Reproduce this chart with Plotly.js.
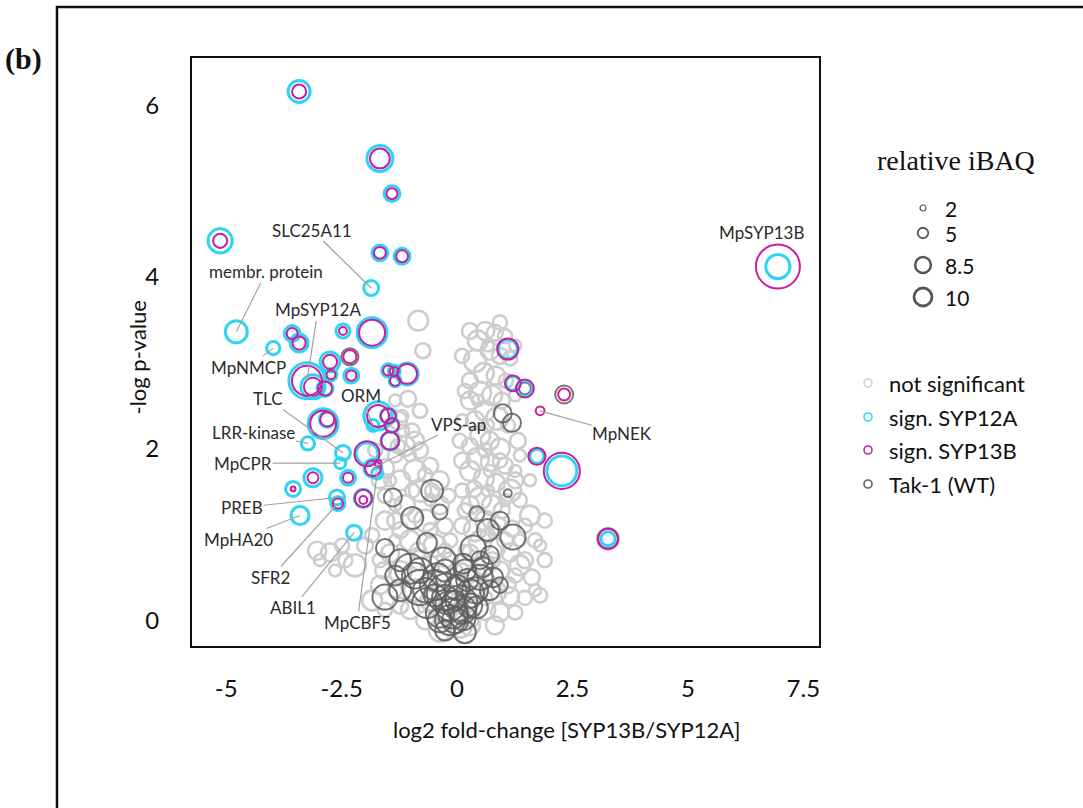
<!DOCTYPE html>
<html>
<head>
<meta charset="utf-8">
<script src="https://cdn.plot.ly/plotly-3.0.1.min.js"></script>
<style>
  html, body { margin: 0; padding: 0; background: #ffffff; }
  #chart { width: 1083px; height: 808px; }
</style>
</head>
<body>
<div id="chart"></div>
<script>
// ---- Volcano plot data: log2 fold-change [SYP13B/SYP12A] vs -log p-value ----

// Proteins that are not significant
const nsX = [-0.84,-0.74,0.61,0.82,1.04,0.45,0.71,0.93,0.39,1.15,0.58,0.84,0.28,1.06,0.50,0.76,0.97,0.28,0.61,0.39,0.87,1.10,0.50,0.71,0.28,0.93,0.45,0.71,1.04,0.28,0.58,0.84,0.37,1.15,1.36,0.50,0.76,0.28,0.97,0.61,0.87,0.39,1.19,1.58,0.50,0.82,0.28,1.15,1.80,1.47,0.61,0.93,0.39,1.26,1.62,0.45,0.82,1.15,0.28,1.47,0.61,0.93,0.32,0.06,
  -1.06,-1.28,-0.97,-1.13,-0.80,-1.34,-1.56,-0.91,-0.58,-1.23,-0.37,-0.80,-1.56,-1.13,-0.37,-1.34,-0.69,-0.26,-1.84,-1.02,-0.48,-1.45,-0.80,-0.15,-1.23,-0.37,-1.67,-0.91,-0.04,-0.58,-0.26,-1.23,0.06,0.28,
  -2.75,-2.97,-2.21,-2.49,-1.60,-1.84,
  -1.34,-0.80,-1.17,-1.45,-0.58,-0.91,-0.15,-1.34,-0.58,0.17,1.36,1.26,0.67,0.45,0.93,0.17,0.17,0.82,1.90,1.69,-1.02,-1.77,
  0.28,0.93,0.67,0.11,1.26,0.17,1.26,0.11,1.32,0.06,0.61,0.11,1.36,0.71,1.26,0.11,1.58,0.67,1.04,0.11,1.47,0.67,1.04,1.69,0.11,0.76,1.36,1.90,1.10,1.80,0.11,0.61,1.26,0.82,
  -1.19,-0.91,-1.28,-0.69,-1.67,-0.97,-1.34,-0.54,-0.19,-1.56,-0.58,-1.23,-1.99,-0.84,-0.26,-1.67,-0.58,-0.04,-1.34,-0.26,-1.02,-1.56,-0.69,-0.37,-2.42,-2.64,-3.03];
const nsY = [3.49,3.14,3.37,3.35,3.31,3.26,3.14,3.08,3.02,3.05,2.88,2.85,2.79,2.79,2.65,2.62,2.56,2.56,2.44,2.33,2.35,2.27,2.15,2.09,2.03,2.00,1.88,1.84,1.80,1.74,1.65,1.60,1.53,1.51,1.40,1.42,1.34,1.34,1.28,1.16,1.10,1.05,1.07,1.22,0.91,0.84,0.79,0.79,0.87,0.70,0.64,0.58,0.52,0.52,0.50,0.35,0.33,0.28,0.23,0.26,0.12,0.09,0.02,0.09,
  2.58,2.33,2.21,2.03,1.98,1.92,1.77,1.74,1.80,1.63,1.63,1.51,1.45,1.34,1.34,1.16,1.16,1.10,0.99,0.93,0.87,0.78,0.70,0.70,0.56,0.52,0.41,0.35,0.41,0.23,0.09,0.17,-0.06,-0.06,
  0.79,0.70,0.64,0.87,0.58,0.23,
  2.56,2.44,2.21,1.63,1.40,1.22,0.93,0.93,0.47,0.35,0.93,1.74,2.27,2.56,1.86,1.28,0.81,1.05,1.16,0.35,1.92,1.98,
  3.37,3.47,3.20,3.08,3.20,2.67,2.62,2.33,2.09,2.09,1.98,1.86,1.92,1.74,1.63,1.51,1.63,1.51,1.40,1.10,1.10,0.99,0.93,0.93,0.58,0.70,0.64,0.70,0.41,0.29,0.23,0.26,0.09,-0.06,
  2.38,2.09,2.03,1.69,1.63,1.51,1.34,1.51,1.45,1.16,1.05,1.05,0.87,0.81,0.81,0.70,0.64,0.58,0.35,0.35,0.12,0.12,0.00,-0.12,0.70,0.58,0.81];
const nsIBAQ = [4.5,3.4,4.1,3.6,3.2,4.5,4.1,3.6,5.0,3.2,4.5,4.1,3.6,3.2,5.0,4.5,3.6,4.1,4.5,4.1,5.0,3.2,4.5,4.1,3.6,4.5,5.0,4.1,3.6,4.5,4.5,4.1,3.6,5.0,3.2,5.0,4.5,4.1,3.6,4.5,4.1,5.0,3.6,4.5,5.0,4.5,3.6,4.1,2.7,3.6,4.5,4.1,5.0,3.2,3.6,4.5,5.0,4.1,3.6,3.2,4.5,4.1,3.6,4.5,
  3.6,4.1,3.2,4.5,3.6,3.2,4.1,5.0,3.6,4.5,4.1,5.0,3.2,4.5,4.1,3.6,5.0,3.6,3.2,4.5,5.0,4.1,4.5,3.6,5.0,4.5,4.1,5.0,4.1,4.5,5.0,3.6,5.5,4.5,
  4.1,2.7,5.0,3.2,3.6,4.5,
  2.7,3.2,2.7,2.7,2.7,3.2,3.2,2.7,3.2,2.7,2.7,2.7,2.7,2.7,3.2,3.2,2.7,2.7,3.2,2.7,2.7,3.2,
  3.6,3.2,2.7,3.2,2.7,3.2,2.7,2.7,3.6,3.2,3.2,3.6,2.7,2.7,3.6,3.2,2.7,2.7,2.7,3.6,3.2,3.2,3.6,3.2,3.2,3.6,4.5,3.2,3.6,3.2,3.2,3.2,3.2,4.1,
  2.7,4.1,3.2,3.2,3.6,3.2,2.7,3.2,3.2,4.1,3.2,3.6,3.6,3.6,3.2,3.2,4.1,3.2,3.2,4.1,4.1,3.2,4.1,5.0,3.2,2.7,4.1];

// Tak-1 (WT)
const wtX = [-1.39,-0.54,-0.37,-0.97,1.10,0.43,0.67,0.93,1.21,-1.56,-1.56,-0.65,-1.02,-0.30,0.35,0.13,0.56,0.78,0.50,-0.80,-0.43,-0.22,0.06,-0.09,0.13,0.28,-0.65,-0.37,0.43,0.00,-0.80,0.99,1.19,-2.32,1.47,2.32,3.27,-0.15,-0.04,0.22,-0.48,-1.23,0.71,0.93,-0.26,0.17,
  -0.15,0.11,-0.26,0.28,-0.04,-0.37,-0.48,0.39,-0.69,0.17,-0.91,-1.23,0.71,0.50,-0.26,-1.34];
const wtY = [1.43,1.51,1.26,1.19,1.48,1.24,1.05,1.16,0.97,0.84,0.27,0.90,0.60,0.70,0.84,0.66,0.62,0.50,0.50,0.38,0.50,0.31,0.20,0.08,0.03,0.31,0.20,0.08,0.15,0.38,0.58,2.41,2.30,3.07,2.70,2.63,0.95,0.00,0.23,0.47,0.29,0.70,0.76,0.41,-0.12,-0.14,
  0.17,0.12,0.26,0.17,0.00,0.00,0.41,0.35,0.35,0.58,0.52,0.35,0.35,0.70,0.58,0.52];
const wtIBAQ = [4.1,5.0,3.4,5.0,1.8,3.4,5.0,4.1,5.7,4.1,5.7,4.5,6.8,5.7,5.7,4.5,4.5,4.5,5.7,8.0,6.4,9.1,8.0,6.8,5.7,6.4,6.8,6.4,5.0,5.7,5.7,4.1,4.1,3.9,2.7,4.1,4.8,6.8,4.5,5.0,5.0,5.0,4.1,3.6,4.5,5.0,
  6.8,6.4,5.9,5.5,5.9,5.5,6.8,5.9,5.5,5.0,5.9,5.0,4.5,4.1,5.0,4.5];

// Significant proteins; relative iBAQ in the SYP12A and SYP13B pull-downs
const sigX = [-3.42,-1.67,-1.41,-5.13,-1.67,-1.19,-1.86,6.95,-4.78,-3.98,-3.57,-3.42,-2.47,-1.84,-2.32,-2.75,-3.25,-3.12,-2.86,-2.73,-2.29,-1.49,-1.36,-1.34,-1.08,-2.90,-2.81,-3.23,-1.71,-1.49,-1.41,-1.82,-1.45,-2.47,-2.53,-1.95,-1.82,-1.71,-1.73,-3.12,-3.55,-2.36,-2.60,-2.58,-2.03,-2.03,-3.40,-2.23,
  1.10,1.21,1.47,1.80,2.32,1.73,2.27,3.27];
const sigY = [6.16,5.38,4.97,4.42,4.28,4.24,3.87,4.12,3.36,3.17,3.34,3.23,3.37,3.35,3.07,3.01,2.79,2.72,2.70,2.86,2.85,2.91,2.90,2.79,2.87,2.29,2.34,2.06,2.38,2.38,2.27,2.27,2.09,1.95,1.83,1.94,1.77,1.83,1.71,1.66,1.53,1.66,1.43,1.36,1.42,1.40,1.22,1.02,
  3.16,2.76,2.70,2.44,2.63,1.91,1.74,0.95];
const ibaqSYP12A = [5.0,5.9,3.6,5.5,3.6,3.6,3.4,5.5,5.0,3.0,3.6,4.1,3.2,6.8,null,4.5,8.2,5.5,3.6,2.7,3.4,3.0,2.7,2.7,5.0,6.8,3.6,3.0,6.4,3.6,3.2,2.7,4.1,3.4,2.5,5.0,4.1,null,2.5,4.1,3.4,3.4,3.4,3.2,4.1,null,4.1,3.4,
  4.3,3.2,3.6,null,null,3.2,6.8,3.2];
const ibaqSYP13B = [3.2,4.5,2.5,3.2,2.7,2.7,null,10,null,null,2.5,3.0,1.8,5.9,3.0,3.2,6.8,4.1,3.2,2.0,2.3,2.3,2.0,2.3,4.5,5.9,3.2,null,5.0,3.4,3.2,null,4.1,null,null,5.7,3.6,1.6,null,2.5,1.1,2.3,null,2.3,3.9,1.8,null,null,
  4.8,3.6,4.1,2.0,2.7,3.9,8.2,4.5];

// Named proteins (index into the significant arrays)
const labelNames = ['SLC25A11','membr. protein','MpSYP12A','MpNMCP','TLC','LRR-kinase','MpCPR','ORM','VPS-ap','PREB','MpHA20','SFR2','ABIL1','MpCBF5','MpNEK'];
const labelIndex = [6,8,16,9,33,27,34,31,36,42,46,43,47,38,51];
const labelOffset = [[-59,-58],[30,-60],[11,-71],[-25,19],[-75,-54],[-54,-11],[-97,0],[-12,-30],[86,-44],[-95,10],[-62,24],[-67,74],[-61,75],[-20,149],[82,23]];

// Axis ticks
const xTicks = [-5,-2.5,0,2.5,5,7.5];
const yTicks = [0,2,4,6];

// Legend content
const iBAQKeys = [2,5,8.5,10];
const groupNames = ['not significant','sign. SYP12A','sign. SYP13B','Tak-1 (WT)'];

// ---- styling ----
const W = 1083, H = 808;
const plotL = 192, plotR = 819, plotT = 58, plotB = 646;
const colNS = '#cdcdcd', colWT = '#5f5f5f', colA = '#2fd3f3', colB = '#c8209c';
const FONT = 'Lato, "Open Sans", sans-serif';
const SERIF = '"Liberation Serif", "DejaVu Serif", serif';

const dia = v => 4.4 * v;          // bubble diameter from relative iBAQ
const keyDia = v => 1.5 * v + 3;   // legend key diameter
const keyWidth = v => 0.8 + v * 0.2;

function pick(xs, ys, vals) {
  const px = [], py = [], pv = [];
  vals.forEach((v, i) => { if (v != null) { px.push(xs[i]); py.push(ys[i]); pv.push(v); } });
  return { x: px, y: py, s: pv.map(dia) };
}

const ns = pick(nsX, nsY, nsIBAQ);
const wt = pick(wtX, wtY, wtIBAQ);
const sa = pick(sigX, sigY, ibaqSYP12A);
const sb = pick(sigX, sigY, ibaqSYP13B);

function bubbles(d, color, width, opacity) {
  return {
    type: 'scatter', mode: 'markers', x: d.x, y: d.y, xaxis: 'x', yaxis: 'y',
    cliponaxis: true, hoverinfo: 'skip',
    marker: { size: d.s, sizemode: 'diameter', color: 'rgba(0,0,0,0)',
      opacity: opacity, line: { color: color, width: width } }
  };
}

const traces = [
  bubbles(ns, colNS, 2.6, 1),
  bubbles(wt, colWT, 2, 0.85),
  bubbles(sa, colA, 3, 1),
  bubbles(sb, colB, 2, 1)
];

// legend keys, drawn on a pixel-space overlay axis
const keyY = [208, 233, 265, 297];
const grpY = [383, 417, 450, 484];
const grpCol = [colNS, colA, colB, colWT];
traces.push({
  type: 'scatter', mode: 'markers', xaxis: 'x2', yaxis: 'y2', cliponaxis: false, hoverinfo: 'skip',
  x: iBAQKeys.map(() => 923), y: keyY,
  marker: { size: iBAQKeys.map(keyDia), color: 'rgba(0,0,0,0)',
    line: { color: '#111111', width: iBAQKeys.map(keyWidth) } }
});
traces.push({
  type: 'scatter', mode: 'markers', xaxis: 'x2', yaxis: 'y2', cliponaxis: false, hoverinfo: 'skip',
  x: groupNames.map(() => 868), y: grpY,
  marker: { size: 8, color: 'rgba(0,0,0,0)', line: { color: grpCol, width: 1.6 } }
});

const annotations = [];
labelNames.forEach((name, k) => {
  const i = labelIndex[k];
  annotations.push({
    x: sigX[i], y: sigY[i], xref: 'x', yref: 'y', text: name,
    showarrow: true, arrowhead: 0, arrowwidth: 1.2, arrowcolor: '#a0a0a0',
    ax: labelOffset[k][0], ay: labelOffset[k][1], standoff: 0, borderpad: 0,
    font: { family: FONT, size: 17, color: '#2b2b2b' }
  });
});
annotations.push({
  x: sigX[7], y: sigY[7], xref: 'x', yref: 'y', text: 'MpSYP13B', showarrow: false,
  xshift: -16, yshift: 34, font: { family: FONT, size: 17, color: '#2b2b2b' }
});

// axis titles
annotations.push({ xref: 'paper', yref: 'paper', x: 567 / W, y: 1 - 745 / H, text: 'log2 fold-change [SYP13B/SYP12A]',
  showarrow: false, font: { family: FONT, size: 22, color: '#111111' } });
annotations.push({ xref: 'paper', yref: 'paper', x: 122 / W, y: 1 - 358 / H, text: '-log p-value', textangle: -90,
  showarrow: false, font: { family: FONT, size: 22, color: '#111111' } });
// panel tag
annotations.push({ xref: 'paper', yref: 'paper', x: 3 / W, y: 1 - 40 / H, xanchor: 'left', text: '<b>(b)</b>',
  showarrow: false, font: { family: SERIF, size: 30, color: '#111111' } });

// legend texts
annotations.push({ xref: 'x2', yref: 'y2', x: 956, y: 160, text: 'relative iBAQ', showarrow: false,
  font: { family: SERIF, size: 28, color: '#111111' } });
iBAQKeys.forEach((v, k) => annotations.push({ xref: 'x2', yref: 'y2', x: 943, y: keyY[k], xanchor: 'left',
  text: String(v), showarrow: false, font: { family: FONT, size: 21, color: '#111111' } }));
groupNames.forEach((g, k) => annotations.push({ xref: 'x2', yref: 'y2', x: 887, y: grpY[k], xanchor: 'left',
  text: g, showarrow: false, font: { family: FONT, size: 22, color: '#111111' } }));

const layout = {
  width: W, height: H, margin: { l: 0, r: 0, t: 0, b: 0 },
  paper_bgcolor: '#ffffff', plot_bgcolor: 'rgba(0,0,0,0)',
  showlegend: false, hovermode: false,
  xaxis: {
    domain: [plotL / W, plotR / W], range: [-5.74, 7.84],
    tickvals: xTicks, ticktext: xTicks.map(String), ticks: '', ticklabelstandoff: 20,
    showgrid: false, zeroline: false, showline: true, mirror: true, linecolor: '#111111', linewidth: 2,
    tickfont: { family: FONT, size: 24, color: '#111111' }, fixedrange: true
  },
  yaxis: {
    domain: [1 - plotB / H, 1 - plotT / H], range: [-0.3, 6.55],
    tickvals: yTicks, ticktext: yTicks.map(String), ticks: '', ticklabelstandoff: 26,
    showgrid: false, zeroline: false, showline: true, mirror: true, linecolor: '#111111', linewidth: 2,
    tickfont: { family: FONT, size: 24, color: '#111111' }, fixedrange: true
  },
  xaxis2: { domain: [0, 1], range: [0, W], anchor: 'y2', visible: false, fixedrange: true },
  yaxis2: { domain: [0, 1], range: [H, 0], anchor: 'x2', visible: false, fixedrange: true },
  shapes: [{
    type: 'rect', xref: 'paper', yref: 'paper', x0: 57 / W, x1: 1.05, y0: -0.05, y1: 1 - 7 / H,
    line: { color: '#111111', width: 2.5 }, fillcolor: 'rgba(0,0,0,0)', layer: 'below'
  }],
  annotations: annotations
};

Plotly.newPlot('chart', traces, layout, { staticPlot: true, displayModeBar: false });
</script>
</body>
</html>
